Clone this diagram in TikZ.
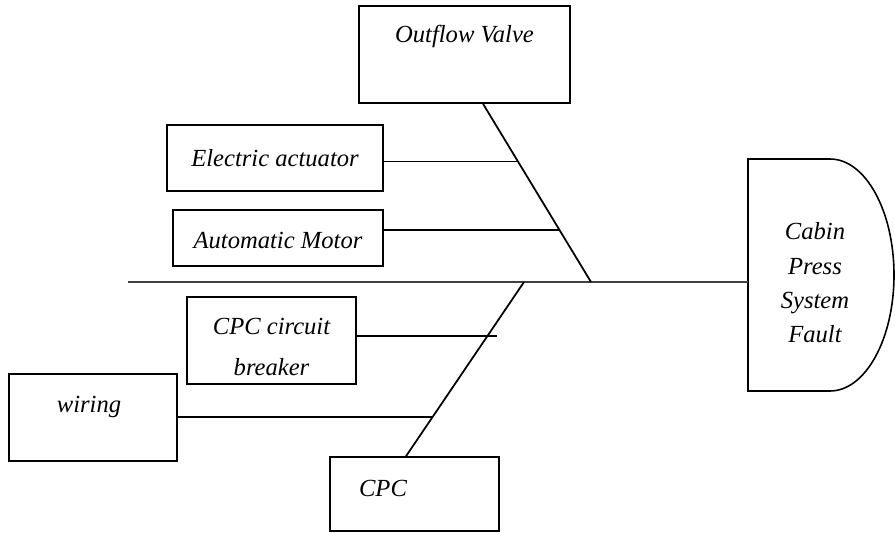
\documentclass[tikz,border=0pt]{standalone}
\usepackage{fontspec}
\setmainfont{Liberation Serif}
\usetikzlibrary{calc, positioning}

\begin{document}
\begin{tikzpicture}[x=0.02cm, y=-0.02cm,
    cause/.style={draw, line width=0.9pt, inner sep=0pt},
    lbl/.style={font=\fontsize{14}{19.5}\selectfont\itshape},
    bone/.style={line width=1pt},
    spine/.style={line width=1.3pt, black!75}]
  \useasboundingbox (0,0) rectangle (895,533);

  % cause boxes
  \node[cause, minimum width=4.22cm, minimum height=1.94cm,
    label={[lbl, yshift=0.37cm]center:Outflow Valve}] (outflow) at (464.5,54.5) {};
  \node[cause, lbl, minimum width=4.32cm, minimum height=1.32cm] (actuator) at (275,158) {Electric actuator};
  \node[cause, minimum width=4.2cm, minimum height=1.12cm,
    label={[lbl, yshift=-0.06cm]center:Automatic Motor}] (motor) at (278,238) {};
  \node[cause, minimum width=3.38cm, minimum height=1.74cm,
    label={[lbl, align=center, yshift=-0.13cm]center:{CPC circuit\\[3.5pt]breaker}}] (breaker) at (271.5,340.5) {};
  \node[cause, minimum width=3.36cm, minimum height=1.74cm,
    label={[lbl, yshift=0.21cm, xshift=-0.08cm]center:wiring}] (wiring) at (93,417.5) {};
  \node[cause, minimum width=3.38cm, minimum height=1.48cm,
    label={[lbl, yshift=0.12cm, xshift=-0.63cm]center:CPC}] (cpc) at (414.5,494) {};

  % head
  \node[lbl, align=center] (fault) at (815,283) {Cabin\\Press\\System\\Fault};
  \draw[line width=0.9pt] (830,391) -- (748,391) -- (748,159) -- (830,159)
    arc[start angle=-90, end angle=90, x radius=64, y radius=116];

  % spine and bones
  \coordinate (tail) at (128,282);
  \coordinate (headL) at (748,282);
  \coordinate (upJ) at (591,282);
  \coordinate (loJ) at (524,282);
  \coordinate (upS) at ([xshift=0.37cm]outflow.south);
  \coordinate (loS) at ([xshift=-0.17cm]cpc.north);
  \draw[spine] (tail) -- (headL);
  \draw[bone] (upS) -- (upJ);
  \draw[bone] (loS) -- (loJ);

  \coordinate (a1) at ($(upS)!0.324!(upJ)$);
  \coordinate (a2) at ($(upS)!0.709!(upJ)$);
  \coordinate (b1) at ($(loS)!0.691!(loJ)$);
  \coordinate (b2) at ($(loS)!0.223!(loJ)$);
  \draw[bone] (actuator.east |- a1) -- (a1);
  \draw[bone] (motor.east |- a2) -- (a2);
  \draw[bone] (breaker.east |- b1) -- ([xshift=0.18cm]b1);
  \draw[bone] (wiring.east |- b2) -- (b2);
\end{tikzpicture}
\end{document}
